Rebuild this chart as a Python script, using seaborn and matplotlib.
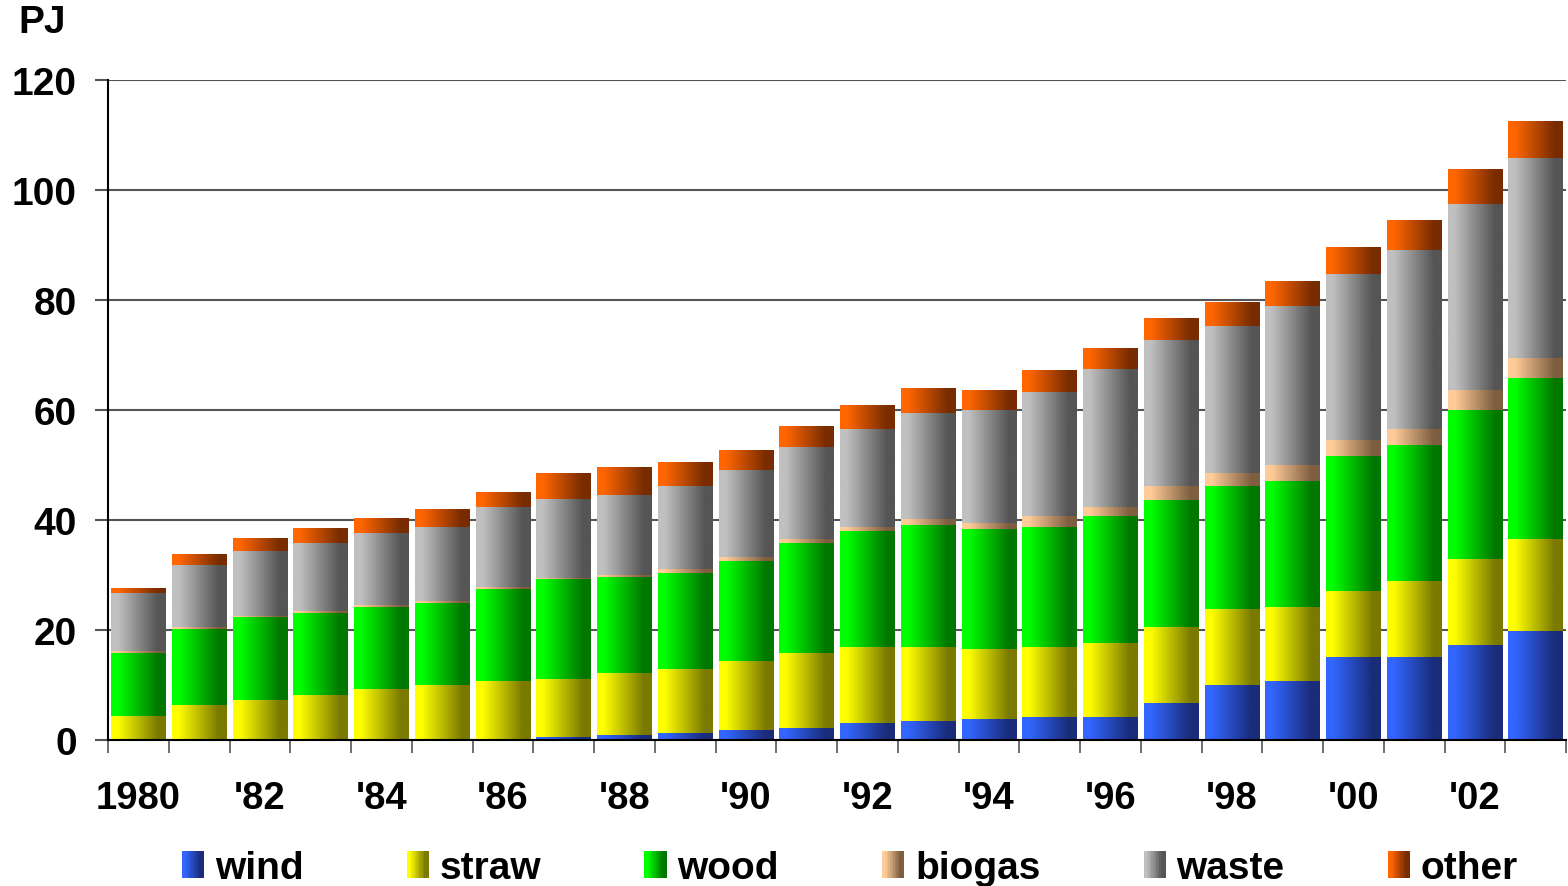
import numpy as np
import pandas as pd
import matplotlib
matplotlib.use("Agg")
import matplotlib.pyplot as plt
import seaborn as sns
from matplotlib.patches import Rectangle
from matplotlib.legend_handler import HandlerBase
from matplotlib.colors import to_rgb

# Renewable energy production by source, PJ
years = [str(y) for y in range(1980, 2004)]
year_labels = ["1980", "'82", "'84", "'86", "'88", "'90",
               "'92", "'94", "'96", "'98", "'00", "'02"]

wind = [0.0, 0.0, 0.0, 0.0, 0.0, 0.1, 0.2, 0.5, 0.9, 1.3, 1.8, 2.2,
        3.1, 3.5, 3.8, 4.2, 4.2, 6.7, 10.0, 10.7, 15.1, 15.1, 17.3, 19.8]
straw = [4.4, 6.4, 7.3, 8.2, 9.3, 9.9, 10.5, 10.6, 11.3, 11.6, 12.6, 13.6,
         13.8, 13.4, 12.7, 12.7, 13.4, 13.8, 13.8, 13.5, 12.0, 13.8, 15.6, 16.7]
wood = [11.4, 13.8, 15.1, 14.9, 14.9, 14.9, 16.8, 18.2, 17.4, 17.5, 18.1, 20.0,
        21.1, 22.2, 21.9, 21.8, 23.1, 23.1, 22.4, 22.9, 24.5, 24.7, 27.1, 29.3]
biogas = [0.4, 0.3, 0.2, 0.4, 0.3, 0.4, 0.3, 0.2, 0.4, 0.7, 0.8, 0.7,
          0.7, 1.1, 1.1, 2.0, 1.7, 2.6, 2.3, 2.9, 2.9, 2.9, 3.6, 3.7]
waste = [10.5, 11.3, 11.8, 12.3, 13.1, 13.4, 14.6, 14.3, 14.5, 15.1, 15.8, 16.8,
         17.8, 19.3, 20.5, 22.6, 25.1, 26.5, 26.8, 28.9, 30.2, 32.6, 33.9, 36.3]
other = [0.9, 2.0, 2.3, 2.7, 2.6, 3.1, 2.7, 4.7, 5.0, 4.3, 3.6, 3.8,
         4.2, 4.5, 3.6, 4.0, 3.8, 4.0, 4.3, 4.4, 4.8, 5.4, 6.3, 6.7]

series_names = ["wind", "straw", "wood", "biogas", "waste", "other"]
series_values = [wind, straw, wood, biogas, waste, other]

# light (left edge) and dark (right edge) shade of each source
shades = {
    "wind": ("#3366FF", "#1A2C7A"),
    "straw": ("#FFFF00", "#7A7A00"),
    "wood": ("#00FF00", "#007800"),
    "biogas": ("#FFCC99", "#7E5E40"),
    "waste": ("#C0C0C0", "#555555"),
    "other": ("#FF6600", "#782C00"),
}


def ramp(light, dark, n):
    """Horizontal shading: flat light band, linear fade, flat dark band."""
    a, b = np.array(to_rgb(light)), np.array(to_rgb(dark))
    t = np.linspace(0, 1, n)
    f = np.clip((t - 0.12) / (0.85 - 0.12), 0, 1)
    return a[None, :] * (1 - f[:, None]) + b[None, :] * f[:, None]


class GradientHandler(HandlerBase):
    def __init__(self, light, dark, steps=14):
        super().__init__()
        self.cols = ramp(light, dark, steps)

    def create_artists(self, legend, orig_handle, xdescent, ydescent,
                       width, height, fontsize, trans):
        n = len(self.cols)
        w = width / n
        return [Rectangle((-xdescent + i * w, -ydescent), w * 1.05, height,
                          facecolor=c, edgecolor="none", transform=trans)
                for i, c in enumerate(self.cols)]


sns.set_theme(style="white")
plt.rcParams["font.family"] = ["Liberation Sans", "DejaVu Sans"]
plt.rcParams["font.weight"] = "bold"
plt.rcParams["text.color"] = "black"
plt.rcParams["xtick.color"] = "black"
plt.rcParams["ytick.color"] = "black"

df = pd.DataFrame({"year": years, **dict(zip(series_names, series_values))})

fig = plt.figure(figsize=(15.68, 8.87), dpi=100)
ax = fig.add_axes([108 / 1568, 1 - 741 / 887, 1458 / 1568, 660 / 887])

bottom = np.zeros(len(years))
for name in series_names:
    light, dark = shades[name]
    n_before = len(ax.patches)
    sns.barplot(data=df, x="year", y=name, order=years, bottom=bottom,
                width=0.9, color=light, saturation=1, errorbar=None,
                linewidth=0, edgecolor="none", ax=ax)
    grad = ramp(light, dark, 256)[None, :, :]
    for p in ax.patches[n_before:]:
        x0, y0 = p.get_x(), p.get_y()
        w, h = p.get_width(), p.get_height()
        p.set_visible(False)
        if h <= 0:
            continue
        ax.imshow(grad, extent=(x0, x0 + w, y0, y0 + h), aspect="auto",
                  interpolation="bilinear", zorder=2)
    bottom = bottom + np.asarray(df[name], dtype=float)

ax.set_xlim(-0.5, len(years) - 0.5)
ax.set_ylim(0, 120)
ax.set_xlabel("")
ax.set_ylabel("")

# y axis: gridlines with outward ticks
ax.set_yticks(range(0, 121, 20))
ax.yaxis.grid(True, color="#555555", linewidth=1.5)
ax.set_axisbelow(True)
ax.tick_params(axis="y", which="major", left=True, length=9.4, width=1.5,
               color="#555555", labelcolor="black", labelsize=28, pad=13)

# x axis: ticks between the bars, labels under every other bar
ax.set_xticks(np.arange(-0.5, len(years), 1.0))
ax.set_xticklabels([])
ax.set_xticks(np.arange(0, len(years), 2), minor=True)
ax.set_xticklabels(year_labels, minor=True)
ax.tick_params(axis="x", which="major", bottom=True, length=9.4, width=1.2,
               color="#555555")
ax.tick_params(axis="x", which="minor", bottom=True, length=0,
               labelsize=27.5, labelcolor="black", pad=29)
for lab in ax.get_xticklabels(minor=True) + ax.get_yticklabels():
    lab.set_fontweight("bold")

for side in ("top", "right"):
    ax.spines[side].set_visible(False)
for side in ("left", "bottom"):
    ax.spines[side].set_color("black")
    ax.spines[side].set_linewidth(1.5)
    ax.spines[side].set_zorder(3)

fig.text(18 / 1568, 1 - 23 / 887, "PJ", ha="left", va="center",
         fontsize=28, fontweight="bold", color="black")

handles = [Rectangle((0, 0), 1, 1) for _ in series_names]
hmap = {h: GradientHandler(*shades[n]) for h, n in zip(handles, series_names)}
leg = ax.legend(handles, series_names, handler_map=hmap, loc="center",
                bbox_to_anchor=(850 / 1568, 1 - 869 / 887),
                bbox_transform=fig.transFigure, ncol=6, frameon=False,
                fontsize=28, handlelength=0.57, handleheight=0.68,
                handletextpad=0.28, columnspacing=2.65, borderpad=0,
                borderaxespad=0)
for t in leg.get_texts():
    t.set_fontweight("bold")
    t.set_color("black")

fig.savefig("out.png", dpi=100)
